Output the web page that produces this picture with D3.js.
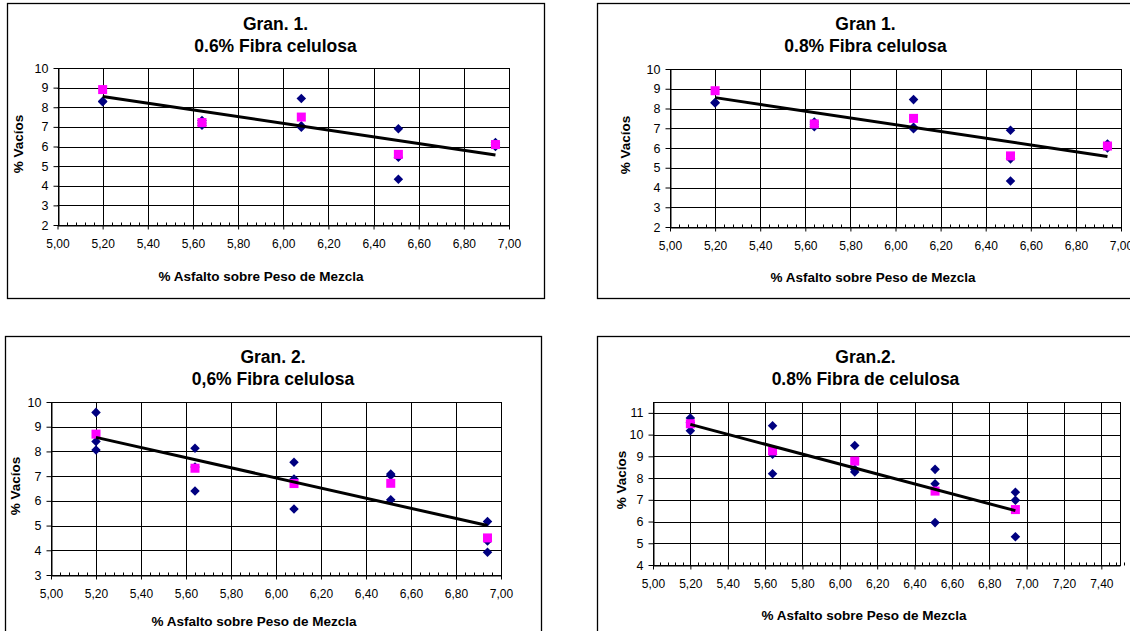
<!DOCTYPE html>
<html>
<head>
<meta charset="utf-8">
<script src="https://cdn.jsdelivr.net/npm/d3@7"></script>
<style>
  html, body { margin: 0; padding: 0; background: #fff; }
  svg { display: block; font-family: "Liberation Sans", Arial, sans-serif; }
</style>
</head>
<body>
<svg id="chart" width="1130" height="631"></svg>
<script>
// --- data ---
const xTitle = "% Asfalto sobre Peso de Mezcla";
const yTitle = "% Vacíos";

// Gran. 1 (both top panels show the same points)
const g1X = [5.20, 5.20, 5.64, 5.64, 5.64, 6.08, 6.08, 6.08, 6.51, 6.51, 6.51, 6.94, 6.94, 6.94];
const g1Y = [8.30, 8.28, 7.32, 7.20, 7.08, 8.45, 7.05, 6.98, 6.90, 5.45, 4.33, 6.20, 6.10, 6.00];
const g1MeanX = [5.20, 5.64, 6.08, 6.51, 6.94];
const g1Mean = [8.90, 7.22, 7.50, 5.60, 6.10];
const g1Trend = [8.55, 5.57];

// Gran. 2, 0,6 %
const g2aX = [5.20, 5.20, 5.20, 5.64, 5.64, 5.64, 6.08, 6.08, 6.08, 6.51, 6.51, 6.51, 6.94, 6.94, 6.94];
const g2aY = [9.58, 8.40, 8.06, 8.13, 7.37, 6.40, 7.56, 6.88, 5.67, 7.09, 7.03, 6.04, 5.16, 4.38, 3.92];
const g2aMeanX = [5.20, 5.64, 6.08, 6.51, 6.94];
const g2aMean = [8.70, 7.32, 6.70, 6.71, 4.50];
const g2aTrend = [8.57, 5.00];

// Gran. 2, 0.8 %
const g2bX = [5.20, 5.20, 5.20, 5.64, 5.64, 5.64, 6.08, 6.08, 6.08, 6.51, 6.51, 6.51, 6.94, 6.94, 6.94];
const g2bY = [10.76, 10.55, 10.18, 10.41, 9.10, 8.20, 9.50, 8.40, 8.28, 8.40, 7.74, 5.95, 7.35, 6.98, 5.30];
const g2bMeanX = [5.20, 5.64, 6.08, 6.51, 6.94];
const g2bMean = [10.50, 9.25, 8.78, 7.40, 6.55];
const g2bTrend = [10.47, 6.50];

const trendX = [5.20, 6.94];

const xTicksA = d3.range(0, 11).map(i => +(5 + i * 0.2).toFixed(2));   // 5,00 .. 7,00
const xTicksB = d3.range(0, 13).map(i => +(5 + i * 0.2).toFixed(2));   // 5,00 .. 7,40
const yTicks1 = d3.range(2, 11);
const yTicks2a = d3.range(3, 11);
const yTicks2b = d3.range(4, 12);

const panels = [
  { box: [7, 3, 537, 295], plot: [57.5, 509, 68, 225], xDom: [5, 7], yDom: [2, 10],
    xTicks: xTicksA, yTicks: yTicks1, titles: ["Gran. 1.", "0.6% Fibra celulosa"],
    px: g1X, py: g1Y, mx: g1MeanX, my: g1Mean, ty: g1Trend,
    xTitlePos: [261, 281], yTitlePos: [23, 144] },
  { box: [597, 3, 537, 295], plot: [670, 1121, 69, 227], xDom: [5, 7], yDom: [2, 10],
    xTicks: xTicksA, yTicks: yTicks1, titles: ["Gran 1.", "0.8% Fibra celulosa"],
    px: g1X, py: g1Y, mx: g1MeanX, my: g1Mean, ty: g1Trend,
    xTitlePos: [873, 282], yTitlePos: [630, 145] },
  { box: [5, 336, 536, 300], plot: [51, 501, 402, 575], xDom: [5, 7], yDom: [3, 10],
    xTicks: xTicksA, yTicks: yTicks2a, titles: ["Gran. 2.", "0,6% Fibra celulosa"],
    px: g2aX, py: g2aY, mx: g2aMeanX, my: g2aMean, ty: g2aTrend,
    xTitlePos: [254, 626], yTitlePos: [20, 486] },
  { box: [597, 336, 537, 300], plot: [653, 1120, 402, 565], xDom: [5, 7.5], yDom: [4, 11.5],
    xTicks: xTicksB, yTicks: yTicks2b, titles: ["Gran.2.", "0.8% Fibra de celulosa"],
    px: g2bX, py: g2bY, mx: g2bMeanX, my: g2bMean, ty: g2bTrend,
    xTitlePos: [864, 620], yTitlePos: [626, 480] }
];

const svg = d3.select("#chart");
const fmt = d3.formatLocale({ decimal: ",", thousands: ".", grouping: [3], currency: ["", ""] }).format(".2f");
const diamond = d3.symbol().type(d3.symbolDiamond2).size(58);

panels.forEach(p => {
  const [bx, by, bw, bh] = p.box;
  const [x0, x1, y0, y1] = p.plot;

  // outer chart frame
  svg.append("rect")
    .attr("x", bx + 0.5).attr("y", by + 0.5)
    .attr("width", bw).attr("height", bh)
    .attr("fill", "#fff").attr("stroke", "#000").attr("stroke-width", 1.3);

  const x = d3.scaleLinear().domain(p.xDom).range([x0, x1]);
  const y = d3.scaleLinear().domain(p.yDom).range([y1, y0]);

  // titles
  const cx = bx + bw / 2;
  p.titles.forEach((t, i) => {
    svg.append("text")
      .attr("x", cx).attr("y", by + 26.5 + i * 22.5)
      .attr("text-anchor", "middle")
      .attr("font-size", "17.5px").attr("font-weight", "bold")
      .text(t);
  });

  const g = svg.append("g");

  // grid
  g.append("g").selectAll("line").data(p.xTicks.filter(v => v > p.xDom[0])).join("line")
    .attr("x1", d => Math.round(x(d)) + 0.5).attr("x2", d => Math.round(x(d)) + 0.5)
    .attr("y1", y0).attr("y2", y1)
    .attr("stroke", "#000").attr("stroke-width", 1);
  g.append("g").selectAll("line").data(p.yTicks.filter(v => v > p.yDom[0])).join("line")
    .attr("x1", x0).attr("x2", x1)
    .attr("y1", d => Math.round(y(d)) + 0.5).attr("y2", d => Math.round(y(d)) + 0.5)
    .attr("stroke", "#000").attr("stroke-width", 1);

  // plot frame
  g.append("rect")
    .attr("x", Math.round(x0) + 0.5).attr("y", Math.round(y0) + 0.5)
    .attr("width", Math.round(x1) - Math.round(x0)).attr("height", Math.round(y1) - Math.round(y0))
    .attr("fill", "none").attr("stroke", "#000").attr("stroke-width", 1);

  // x axis: major ticks + labels
  const minor = d3.range(0, Math.round((p.xDom[1] - p.xDom[0]) / 0.04) + 1)
    .map(i => +(p.xDom[0] + i * 0.04).toFixed(2));
  const xAxisG = g.append("g")
    .attr("transform", `translate(0, ${Math.round(y1) + 0.5})`)
    .call(d3.axisBottom(x).tickValues(p.xTicks).tickSizeInner(4).tickSizeOuter(0)
      .tickPadding(10).tickFormat(fmt));
  xAxisG.select(".domain").attr("stroke", "#000");
  xAxisG.selectAll("text").attr("font-size", "12px").attr("font-family", null).attr("fill", "#000");

  g.append("g")
    .attr("transform", `translate(0, ${Math.round(y1) + 0.5})`)
    .selectAll("line").data(minor).join("line")
    .attr("x1", d => Math.round(x(d)) + 0.5).attr("x2", d => Math.round(x(d)) + 0.5)
    .attr("y1", 0).attr("y2", -3)
    .attr("stroke", "#000");

  // y axis
  const yAxisG = g.append("g")
    .attr("transform", `translate(${Math.round(x0) + 0.5}, 0)`)
    .call(d3.axisLeft(y).tickValues(p.yTicks).tickSizeInner(5).tickSizeOuter(0)
      .tickPadding(5).tickFormat(d3.format("d")));
  yAxisG.select(".domain").attr("stroke", "#000");
  yAxisG.selectAll("text").attr("font-size", "12.5px").attr("font-family", null).attr("fill", "#000");

  // axis titles
  svg.append("text")
    .attr("x", p.xTitlePos[0]).attr("y", p.xTitlePos[1])
    .attr("text-anchor", "middle")
    .attr("font-size", "13.5px").attr("font-weight", "bold")
    .text(xTitle);
  svg.append("text")
    .attr("transform", `translate(${p.yTitlePos[0]}, ${p.yTitlePos[1]}) rotate(-90)`)
    .attr("text-anchor", "middle")
    .attr("font-size", "13.5px").attr("font-weight", "bold")
    .text(yTitle);

  // individual results (diamonds)
  g.append("g").selectAll("path").data(p.px.map((v, i) => [v, p.py[i]])).join("path")
    .attr("d", diamond)
    .attr("transform", d => `translate(${x(d[0])}, ${y(d[1])})`)
    .attr("fill", "#000080");

  // averages (squares)
  g.append("g").selectAll("rect").data(p.mx.map((v, i) => [v, p.my[i]])).join("rect")
    .attr("x", d => x(d[0]) - 4.5).attr("y", d => y(d[1]) - 4.5)
    .attr("width", 9).attr("height", 9)
    .attr("fill", "#ff00ff");

  // linear trend
  g.append("path")
    .datum(trendX.map((v, i) => [v, p.ty[i]]))
    .attr("d", d3.line().x(d => x(d[0])).y(d => y(d[1])))
    .attr("stroke", "#000").attr("stroke-width", 3).attr("fill", "none");
});
</script>
</body>
</html>
